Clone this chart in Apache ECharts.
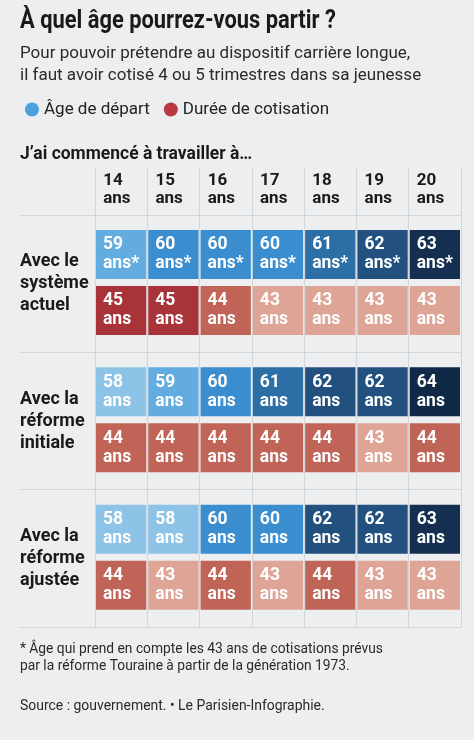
<!DOCTYPE html>
<html>
<head>
<meta charset="utf-8">
<script src="https://cdn.jsdelivr.net/npm/echarts@6/dist/echarts.min.js"></script>
<style>
  html, body { margin: 0; padding: 0; background: #eceef0; }
  #chart { width: 474px; height: 740px; }
</style>
</head>
<body>
<div id="chart"></div>
<script>
// ---- Data ----
var ages = ['14', '15', '16', '17', '18', '19', '20'];
var scenarios = ['Avec le\nsystème\nactuel', 'Avec la\nréforme\ninitiale', 'Avec la\nréforme\najustée'];
var departAge = [
  [59, 60, 60, 60, 61, 62, 63],
  [58, 59, 60, 61, 62, 62, 64],
  [58, 58, 60, 60, 62, 62, 63]
];
var cotisation = [
  [45, 45, 44, 43, 43, 43, 43],
  [44, 44, 44, 44, 44, 43, 44],
  [44, 43, 44, 43, 44, 43, 43]
];
var departNote = ['*', '', ''];
var legendNames = ['Âge de départ', 'Durée de cotisation'];

var blueScale = {58: '#8cc3e6', 59: '#62acdf', 60: '#3a8ecf', 61: '#2c6ea6', 62: '#22517f', 63: '#142f4f', 64: '#0f2946'};
var redScale = {43: '#dea496', 44: '#bf6457', 45: '#a8343a'};

function toSeriesData(matrix, notes) {
  var out = [];
  matrix.forEach(function (row, r) {
    row.forEach(function (v, c) {
      out.push([c, r, v, notes ? notes[r] : '']);
    });
  });
  return out;
}

var FONT = 'Roboto, "Noto Sans", sans-serif';
var GRID = '#d2d6d9';

function makeRender(offsetTop, h) {
  return function (params, api) {
    var c = api.coord([api.value(0), api.value(1)]);
    var s = api.size([1, 1]);
    var x0 = c[0] - s[0] / 2;
    var y0 = c[1] - s[1] / 2 + offsetTop;
    var note = api.value(3) || '';
    return {
      type: 'group',
      children: [
        { type: 'rect', shape: { x: x0 + 1, y: y0, width: s[0] - 2, height: h },
          style: { fill: api.visual('color') } },
        { type: 'text', x: x0 + 8, y: y0 + h / 2,
          style: { text: api.value(2) + '\nans' + note, fill: '#ffffff',
                   font: 'bold 17.5px ' + FONT, lineHeight: 19,
                   align: 'left', verticalAlign: 'middle' } }
      ]
    };
  };
}

function pieces(scale) {
  return Object.keys(scale).map(function (k) { return { value: +k, color: scale[k] }; });
}

var chart = echarts.init(document.getElementById('chart'), null, { renderer: 'canvas' });
chart.setOption({
  backgroundColor: '#eceef0',
  animation: false,
  textStyle: { fontFamily: FONT },
  grid: { left: 95, right: 13, top: 215, bottom: 113 },
  legend: {
    left: 20, top: 96, itemWidth: 14, itemHeight: 14, itemGap: 14, icon: 'circle',
    textStyle: { fontSize: 17, color: '#222', fontFamily: FONT },
    data: [
      { name: legendNames[0], itemStyle: { color: '#4aa1db' } },
      { name: legendNames[1], itemStyle: { color: '#b8393f' } }
    ]
  },
  xAxis: {
    type: 'category', position: 'top', data: ages,
    axisLine: { show: false },
    axisTick: { show: true, interval: 0, length: 47, lineStyle: { color: GRID, width: 1 } },
    splitLine: { show: true, interval: 0, lineStyle: { color: GRID, width: 1 } },
    axisLabel: {
      interval: 0, margin: 7,
      formatter: function (v) { return '{a|' + v + '}\n{a|ans}'; },
      rich: { a: { width: 36, align: 'left', fontSize: 17, fontWeight: 'bold', lineHeight: 18, color: '#1a1a1a', fontFamily: FONT } }
    }
  },
  yAxis: {
    type: 'category', inverse: true, data: scenarios,
    axisLine: { show: false },
    axisTick: { show: true, interval: 0, length: 75, lineStyle: { color: GRID, width: 1 } },
    splitLine: { show: true, interval: 0, lineStyle: { color: GRID, width: 1 } },
    axisLabel: { interval: 0, margin: 75, align: 'left', fontSize: 18, fontWeight: 'bold', lineHeight: 22, color: '#1a1a1a', fontFamily: FONT }
  },
  visualMap: [
    { type: 'piecewise', show: false, seriesIndex: 0, dimension: 2, pieces: pieces(blueScale) },
    { type: 'piecewise', show: false, seriesIndex: 1, dimension: 2, pieces: pieces(redScale) }
  ],
  series: [
    { name: legendNames[0], type: 'custom', renderItem: makeRender(15, 49),
      encode: { x: 0, y: 1 }, data: toSeriesData(departAge, departNote), itemStyle: { color: '#4aa1db' } },
    { name: legendNames[1], type: 'custom', renderItem: makeRender(71, 49),
      encode: { x: 0, y: 1 }, data: toSeriesData(cotisation, null), itemStyle: { color: '#b8393f' } }
  ],
  graphic: [
    { type: 'text', x: 20, y: 21.5, scaleX: 0.875,
      style: { text: 'À quel âge pourrez-vous partir ?', font: 'bold 25px ' + FONT, fill: '#1a1a1a', verticalAlign: 'middle' } },
    { type: 'text', x: 20, y: 53.5, scaleX: 1.0,
      style: { text: 'Pour pouvoir prétendre au dispositif carrière longue,\nil faut avoir cotisé 4 ou 5 trimestres dans sa jeunesse',
               font: '17px ' + FONT, lineHeight: 22, fill: '#2a2a2a', verticalAlign: 'top', y: -11 } },
    { type: 'text', x: 20, y: 154, scaleX: 0.97,
      style: { text: 'J’ai commencé à travailler à…', font: 'bold 18px ' + FONT, fill: '#1a1a1a', verticalAlign: 'middle' } },
    { type: 'text', x: 20, y: 641, scaleX: 0.92,
      style: { text: '* Âge qui prend en compte les 43 ans de cotisations prévus\npar la réforme Touraine à partir de la génération 1973.',
               font: '15px ' + FONT, lineHeight: 17, fill: '#2a2a2a', verticalAlign: 'top' } },
    { type: 'text', x: 20, y: 699, scaleX: 0.93,
      style: { text: 'Source : gouvernement. • Le Parisien-Infographie.', font: '15px ' + FONT, fill: '#2a2a2a', verticalAlign: 'top' } }
  ]
});
</script>
</body>
</html>
